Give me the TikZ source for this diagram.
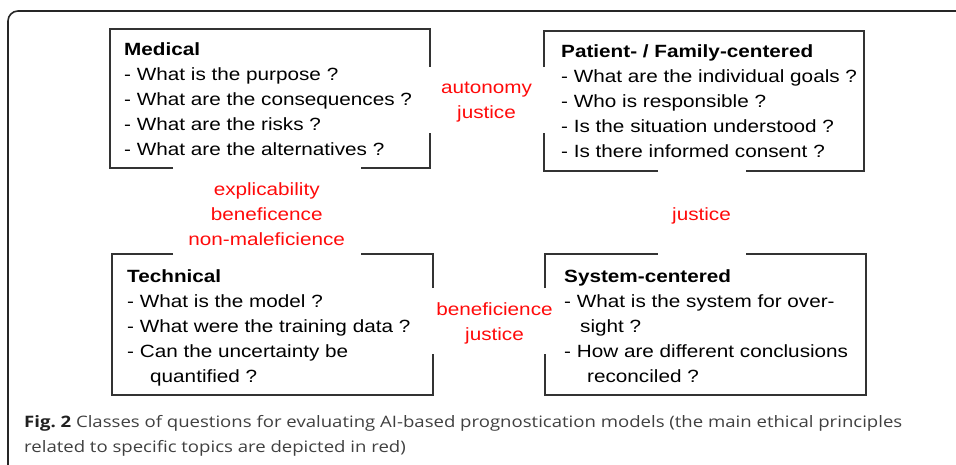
\documentclass[tikz,border=0pt]{standalone}
\usepackage{fontspec}
\setmainfont{Liberation Sans}
\newfontfamily\boxfont[FakeStretch=1.17]{Liberation Sans}
\newfontfamily\capfont[FakeStretch=1.175]{Open Sans}
\definecolor{capgray}{HTML}{404040}
\definecolor{capdark}{HTML}{202020}
\definecolor{prinred}{HTML}{FF0A0A}
\newcommand{\qlines}[1]{\vtop{\baselineskip=25pt\lineskiplimit=-100pt\halign{##\hfil\cr#1\crcr}}}
\newcommand{\clines}[1]{\vtop{\baselineskip=25pt\lineskiplimit=-100pt\halign{\hfil##\hfil\cr#1\crcr}}}
\tikzset{
  qtext/.style={anchor=base west, inner sep=0pt, font=\boxfont\fontsize{17.7}{25}\selectfont, text=black},
  ptext/.style={anchor=base, inner sep=0pt, font=\boxfont\fontsize{17.7}{25}\selectfont, text=prinred},
  boxline/.style={line width=1.2pt, draw=black!80},
  frameline/.style={line width=1.6pt, draw=black!85, rounded corners=10pt},
  captext/.style={anchor=base west, inner sep=0pt, font=\capfont\fontsize{15.8}{25}\selectfont, text=capgray}
}
\begin{document}
\begin{tikzpicture}[x=1pt,y=-1pt]
\useasboundingbox (0,0) rectangle (956,464);
\clip (0,0) rectangle (956,464);
% outer frame
\draw[frameline] (8,490) -- (8,11) -- (990,11);

% Medical box
\draw[boxline] (173,168) -- (110,168) -- (110,29) -- (430,29) -- (430,67);
\draw[boxline] (430,133) -- (430,168) -- (361,168);
\node[qtext] (medtext) at (124,55) {\qlines{\textbf{Medical}\cr
- What is the purpose ?\cr
- What are the consequences ?\cr
- What are the risks ?\cr
- What are the alternatives ?}};

% Patient box
\draw[boxline] (544,67) -- (544,31) -- (864,31) -- (864,171) -- (746,171);
\draw[boxline] (658,171) -- (544,171) -- (544,133);
\node[qtext] (pattext) at (561,57.7) {\qlines{\textbf{Patient- / Family-centered}\cr
- What are the individual goals ?\cr
- Who is responsible ?\cr
- Is the situation understood ?\cr
- Is there informed consent ?}};

% Technical box
\draw[boxline] (173,254) -- (112,254) -- (112,395) -- (433,395) -- (433,354);
\draw[boxline] (433,288) -- (433,254) -- (361,254);
\node[qtext] (techtext) at (127,282.7) {\qlines{\textbf{Technical}\cr
- What is the model ?\cr
- What were the training data ?\cr
- Can the uncertainty be\cr
\hspace*{23pt}quantified ?}};

% System box
\draw[boxline] (545,288) -- (545,254) -- (658,254);
\draw[boxline] (746,254) -- (866,254) -- (866,395) -- (545,395) -- (545,354);
\node[qtext] (systext) at (564,282.7) {\qlines{\textbf{System-centered}\cr
- What is the system for over-\cr
\hspace*{16pt}sight ?\cr
- How are different conclusions\cr
\hspace*{23pt}reconciled ?}};

% principles
\node[ptext] (ptop) at (486.5,93.3) {\clines{autonomy\cr justice}};
\node[ptext] (pleft) at (266.7,195) {\clines{explicability\cr beneficence\cr non-maleficience}};
\node[ptext] (pright) at (701.5,220.7) {justice};
\node[ptext] (pbottom) at (494.5,315.7) {\clines{beneficience\cr justice}};

% caption
\node[captext] (cap1) at (24,427.3) {{\bfseries\color{capdark}Fig.~2} Classes of questions for evaluating AI-based prognostication models (the main ethical principles};
\node[captext] (cap2) at (24,452.3) {related to specific topics are depicted in red)};
\end{tikzpicture}
\end{document}
